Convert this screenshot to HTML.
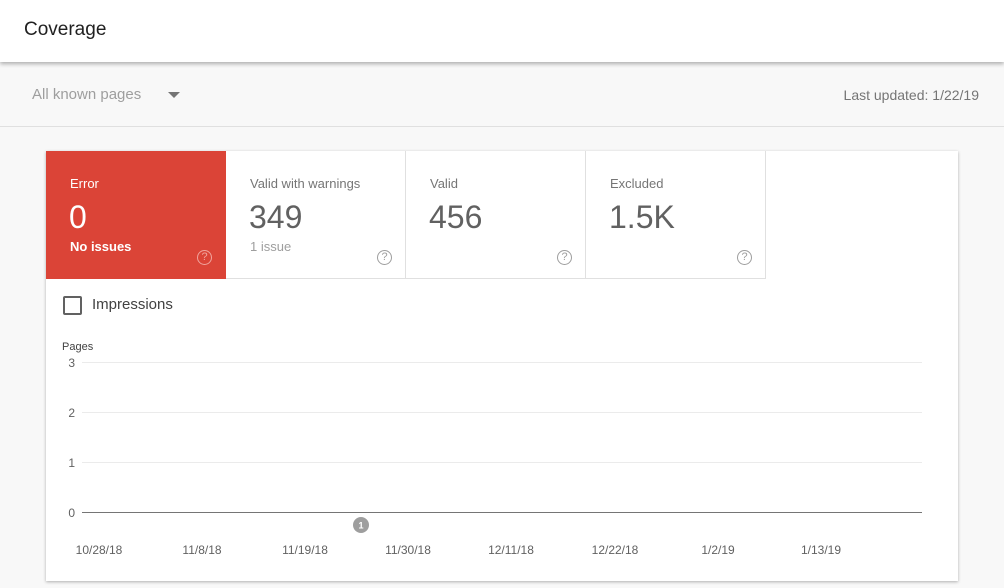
<!DOCTYPE html>
<html><head><style>
body{margin:0;width:1004px;height:588px;background:#f8f8f8;font-family:"Liberation Sans",Arial,sans-serif;position:relative;overflow:hidden}
.hdr{position:absolute;left:0;top:0;width:1004px;height:62px;background:#fff;box-shadow:0 2px 4px rgba(0,0,0,.3)}
.hdr span{position:absolute;left:24px;top:19px;font-size:19px;color:#212121}
.ab{position:absolute;top:86px;font-size:15px;color:#9e9e9e}
.line{position:absolute;left:0;top:126px;width:1004px;height:1px;background:#e0e0e0}
.card{position:absolute;left:46px;top:151px;width:912px;height:430px;background:#fff;box-shadow:0 1px 3px rgba(0,0,0,.3)}
.t{position:absolute;top:0;width:180px;height:128px;box-sizing:border-box;border-right:1px solid #e0e0e0;border-bottom:1px solid #e0e0e0}
.t .l{position:absolute;left:24px;top:25px;font-size:13px;color:#757575}
.t .n{position:absolute;left:23px;top:48px;font-size:32px;color:#616161}
.t .s{position:absolute;left:24px;top:88px;font-size:13px;color:#9e9e9e}
.t .q{position:absolute;left:151px;top:99px;width:13px;height:13px;border:1.5px solid #9e9e9e;border-radius:50%;font-size:11px;line-height:13px;text-align:center;color:#9e9e9e}
.err{background:#db4437;border:none}
.err .l,.err .n,.err .s{color:#fff}.err .s{font-weight:bold}
.err .q{border-color:#f0a49d;color:#f0a49d}
</style></head><body>
<div class="hdr"><span>Coverage</span></div>
<div class="ab" style="left:32px">All known pages</div>
<div style="position:absolute;left:168px;top:92px;width:0;height:0;border-left:6px solid transparent;border-right:6px solid transparent;border-top:6px solid #757575"></div>
<div class="ab" style="right:25px;color:#757575;font-size:14px;top:87px">Last updated: 1/22/19</div>
<div class="line"></div>
<div class="card">
<div class="t err" style="left:0"><div class="l">Error</div><div class="n" style="color:#fff">0</div><div class="s">No issues</div><div class="q">?</div></div>
<div class="t" style="left:180px"><div class="l">Valid with warnings</div><div class="n">349</div><div class="s">1 issue</div><div class="q">?</div></div>
<div class="t" style="left:360px"><div class="l">Valid</div><div class="n">456</div><div class="q">?</div></div>
<div class="t" style="left:540px"><div class="l">Excluded</div><div class="n">1.5K</div><div class="q">?</div></div>
<div style="position:absolute;left:17px;top:145px;width:15px;height:15px;border:2px solid #616161;border-radius:2px"></div>
<div style="position:absolute;left:46px;top:145px;font-size:15px;color:#424242">Impressions</div>
</div>
<svg style="position:absolute;left:0;top:0" width="1004" height="588" font-family="Liberation Sans,Arial,sans-serif" font-size="12" fill="#616161">
<text x="62" y="350" font-size="11" fill="#424242">Pages</text>
<g stroke="#ebebeb"><line x1="82" y1="362.5" x2="922" y2="362.5"/><line x1="82" y1="412.5" x2="922" y2="412.5"/><line x1="82" y1="462.5" x2="922" y2="462.5"/></g>
<line x1="82" y1="512.5" x2="922" y2="512.5" stroke="#757575"/>
<g text-anchor="end"><text x="75" y="367">3</text><text x="75" y="417">2</text><text x="75" y="467">1</text><text x="75" y="517">0</text></g>
<g text-anchor="middle"><text x="99" y="554">10/28/18</text><text x="202" y="554">11/8/18</text><text x="305" y="554">11/19/18</text><text x="408" y="554">11/30/18</text><text x="511" y="554">12/11/18</text><text x="615" y="554">12/22/18</text><text x="718" y="554">1/2/19</text><text x="821" y="554">1/13/19</text></g>
<circle cx="361" cy="525" r="8" fill="#9e9e9e"/><text x="361" y="528.5" font-size="9" fill="#fff" text-anchor="middle" font-weight="bold">1</text>
</svg>
</body></html>
